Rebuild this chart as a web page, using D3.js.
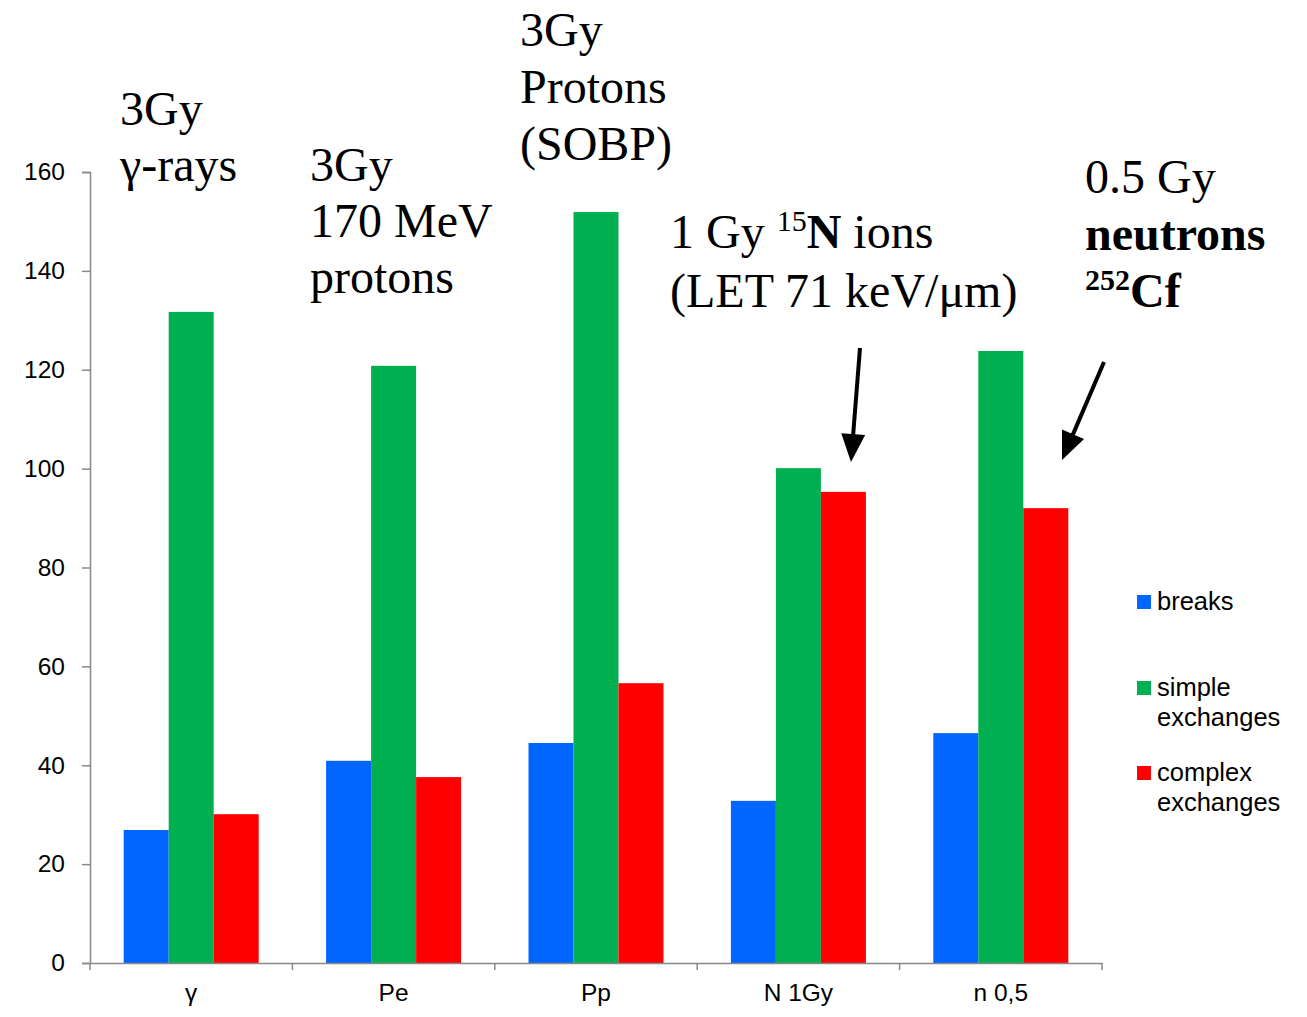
<!DOCTYPE html>
<html><head><meta charset="utf-8">
<script src="https://cdn.jsdelivr.net/npm/d3@7"></script>
<style>body{margin:0;background:#fff}svg{display:block}</style>
</head><body>
<svg id="c" width="1307" height="1017"></svg>
<script>
const categories = ["γ", "Pe", "Pp", "N 1Gy", "n 0,5"];
const seriesNames = ["breaks", "simple exchanges", "complex exchanges"];
const breaks = [26.9, 40.9, 44.5, 32.8, 46.5];
const simpleEx = [131.7, 120.8, 151.9, 100.1, 123.8];
const complexEx = [30.1, 37.6, 56.6, 95.3, 92.0];
const yTicks = [0, 20, 40, 60, 80, 100, 120, 140, 160];
const colors = ["#0066FF", "#00B050", "#FF0000"];

const svg = d3.select("#c");
const x = d3.scaleBand().domain(categories).range([90, 1102]).padding(0);
const bw = x.bandwidth();
const inner = d3.scaleBand().domain(seriesNames).range([(bw - 135) / 2, (bw + 135) / 2]).padding(0);
const y = d3.scaleLinear().domain([0, 160]).range([963, 172]);

const seriesVals = [breaks, simpleEx, complexEx];
seriesNames.forEach((s, si) => {
  svg.append("g").selectAll("rect").data(categories).join("rect")
    .attr("x", (c) => x(c) + inner(s))
    .attr("y", (c, i) => y(seriesVals[si][i]))
    .attr("width", inner.bandwidth())
    .attr("height", (c, i) => y(0) - y(seriesVals[si][i]))
    .attr("fill", colors[si]);
});

// Y axis
const yAxis = svg.append("g").attr("transform", "translate(90,0)")
  .call(d3.axisLeft(y).tickValues(yTicks).tickSize(8).tickPadding(17));
yAxis.selectAll("path,line").attr("stroke", "#888").attr("stroke-width", 1.5);
yAxis.selectAll("text").attr("font-family", "Liberation Sans, Arial, sans-serif").attr("font-size", 24.5).attr("fill", "#000");

// X axis
const xAxis = svg.append("g").attr("transform", "translate(0,963)")
  .call(d3.axisBottom(x).tickSize(0).tickPadding(21));
xAxis.select("path").attr("stroke", "#888").attr("stroke-width", 1.5);
xAxis.selectAll("text").attr("font-family", "Liberation Sans, Arial, sans-serif").attr("font-size", 24.5).attr("fill", "#000");
const bounds = categories.map(c => x(c)).concat([x(categories[categories.length - 1]) + bw]);
svg.append("g").selectAll("line").data(bounds).join("line")
  .attr("x1", d => d).attr("x2", d => d).attr("y1", 963).attr("y2", 970)
  .attr("stroke", "#888").attr("stroke-width", 1.5);

// Legend
const leg = svg.append("g").attr("font-family", "Liberation Sans, Arial, sans-serif").attr("font-size", 25.5);
const legendItems = [
  { lines: ["breaks"], y: 610 },
  { lines: ["simple", "exchanges"], y: 696 },
  { lines: ["complex", "exchanges"], y: 781 }
];
legendItems.forEach((it, i) => {
  leg.append("rect").attr("x", 1137).attr("y", it.y - 15).attr("width", 14).attr("height", 14).attr("fill", colors[i]);
  it.lines.forEach((t, j) => {
    leg.append("text").attr("x", 1157).attr("y", it.y + j * 30).text(t);
  });
});

// Annotations
const ann = svg.append("g").attr("font-family", "Liberation Serif, Times New Roman, serif").attr("font-size", 48).attr("fill", "#000");
function lines(xp, ys, arr) {
  arr.forEach((t, i) => ann.append("text").attr("x", xp).attr("y", ys[i]).text(t));
}
lines(120, [125, 181], ["3Gy", "γ-rays"]);
lines(310, [181, 237, 293], ["3Gy", "170 MeV", "protons"]);
lines(520, [46, 103, 160], ["3Gy", "Protons", "(SOBP)"]);

const t1 = ann.append("text").attr("x", 670).attr("y", 248);
t1.append("tspan").text("1 Gy ");
t1.append("tspan").attr("font-size", 30).attr("dy", -17).text("15");
t1.append("tspan").attr("font-weight", "bold").attr("dy", 17).text("N");
t1.append("tspan").text(" ions");
ann.append("text").attr("x", 670).attr("y", 307).text("(LET 71 keV/μm)");

ann.append("text").attr("x", 1085).attr("y", 193).text("0.5 Gy");
ann.append("text").attr("x", 1085).attr("y", 250).attr("font-weight", "bold").text("neutrons");
const t2 = ann.append("text").attr("x", 1085).attr("y", 307).attr("font-weight", "bold");
t2.append("tspan").attr("font-size", 30).attr("dy", -17).text("252");
t2.append("tspan").attr("dy", 17).text("Cf");

// Arrows
const arrows = [[860, 348, 851, 462], [1104, 362, 1062, 460]];
svg.append("g").selectAll("line").data(arrows).join("line")
  .attr("x1", d => d[0]).attr("y1", d => d[1]).attr("x2", d => d[0] + (d[2] - d[0]) * 0.8).attr("y2", d => d[1] + (d[3] - d[1]) * 0.8)
  .attr("stroke", "#000").attr("stroke-width", 4);
svg.append("g").selectAll("path").data(arrows).join("path")
  .attr("d", d => {
    const dx = d[2] - d[0], dy = d[3] - d[1], L = Math.hypot(dx, dy);
    const ux = dx / L, uy = dy / L, px = -uy, py = ux, hl = 28, hw = 12;
    const bx = d[2] - ux * hl, by = d[3] - uy * hl;
    return `M${d[2]},${d[3]}L${bx + px * hw},${by + py * hw}L${bx - px * hw},${by - py * hw}Z`;
  }).attr("fill", "#000");
</script>
</body></html>
